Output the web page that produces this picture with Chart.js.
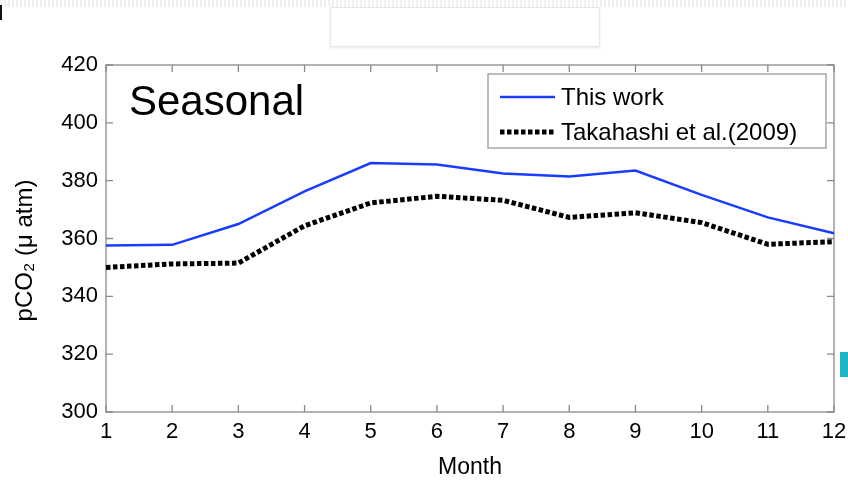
<!DOCTYPE html>
<html>
<head>
<meta charset="utf-8">
<script src="https://cdn.jsdelivr.net/npm/chart.js@4/dist/chart.umd.min.js"></script>
<style>
  html, body { margin: 0; padding: 0; background: #fff; }
  #wrap { position: relative; width: 848px; height: 482px; overflow: hidden; }
  #strip { position: absolute; left: 0; top: 0; width: 848px; height: 7px;
           background: repeating-linear-gradient(90deg, #f0f0f0 0 2px, #fff 2px 4px); }
  #topbox { position: absolute; left: 330px; top: 7px; width: 268px; height: 38px;
            border: 1px solid #e6e6e6; box-shadow: 0 1px 2px #e8e8e8; background: #fff; }
  #mark { position: absolute; left: 0; top: 5px; width: 2px; height: 15px; background: #111; }
  #cyan { position: absolute; left: 840px; top: 352px; width: 8px; height: 25px; background: #1db4c9; }
  canvas { position: absolute; left: 0; top: 0; }
</style>
</head>
<body>
<div id="wrap">
  <canvas id="c" width="848" height="482"></canvas>
  <div id="strip"></div>
  <div id="topbox"></div>
  <div id="mark"></div>
  <div id="cyan"></div>
</div>
<script>
const months = [1, 2, 3, 4, 5, 6, 7, 8, 9, 10, 11, 12];
const thisWork = [357.6, 357.8, 365.0, 376.3, 386.1, 385.6, 382.5, 381.4, 383.5, 375.1, 367.3, 361.8];
const takahashi = [350.0, 351.2, 351.5, 364.4, 372.3, 374.6, 373.2, 367.3, 368.9, 365.5, 358.0, 358.9];
const yTicks = [300, 320, 340, 360, 380, 400, 420];
const seriesNames = ['This work', 'Takahashi et al.(2009)'];
const panelLabel = 'Seasonal';

const AXIS_GRAY = '#8a8a8a';
const FONT = "'Liberation Sans', Arial, Helvetica, sans-serif";

const boxTicks = {
  id: 'boxTicks',
  beforeDatasetsDraw(chart) {
    const {ctx, chartArea: a, scales: {x, y}} = chart;
    ctx.save();
    ctx.strokeStyle = AXIS_GRAY;
    ctx.lineWidth = 1.3;
    ctx.strokeRect(a.left, a.top, a.right - a.left, a.bottom - a.top);
    const L = 7;
    ctx.beginPath();
    months.forEach((m, i) => {
      const px = x.getPixelForValue(i);
      ctx.moveTo(px, a.bottom); ctx.lineTo(px, a.bottom - L);
      ctx.moveTo(px, a.top); ctx.lineTo(px, a.top + L);
    });
    yTicks.forEach(v => {
      const py = y.getPixelForValue(v);
      ctx.moveTo(a.left, py); ctx.lineTo(a.left + L, py);
      ctx.moveTo(a.right, py); ctx.lineTo(a.right - L, py);
    });
    ctx.stroke();
    ctx.restore();
  },
  afterDatasetsDraw(chart) {
    const {ctx, chartArea: a} = chart;
    ctx.save();
    ctx.fillStyle = '#000';
    ctx.font = '42px ' + FONT;
    ctx.textBaseline = 'alphabetic';
    ctx.textAlign = 'left';
    ctx.fillText(panelLabel, a.left + 23, a.top + 50);
    const bx = 488, by = 74, bw = 338, bh = 74;
    ctx.fillStyle = '#fff';
    ctx.fillRect(bx, by, bw, bh);
    ctx.strokeStyle = '#9a9a9a';
    ctx.lineWidth = 1.3;
    ctx.strokeRect(bx, by, bw, bh);
    const ds = chart.data.datasets;
    const rows = [97, 132];
    ds.forEach((d, i) => {
      ctx.beginPath();
      ctx.strokeStyle = d.borderColor;
      ctx.lineWidth = d.borderWidth;
      ctx.setLineDash(d.borderDash || []);
      ctx.moveTo(500, rows[i]); ctx.lineTo(555, rows[i]);
      ctx.stroke();
      ctx.setLineDash([]);
      ctx.fillStyle = '#000';
      ctx.font = '24px ' + FONT;
      ctx.textBaseline = 'middle';
      ctx.fillText(d.label, 561, rows[i] + 1);
    });
    ctx.restore();
  }
};

new Chart(document.getElementById('c'), {
  type: 'line',
  data: {
    labels: months,
    datasets: [
      { label: seriesNames[0], data: thisWork, borderColor: '#1a3cff', borderWidth: 2.5,
        pointRadius: 0, tension: 0, fill: false },
      { label: seriesNames[1], data: takahashi, borderColor: '#000000', borderWidth: 5,
        borderDash: [4.5, 2.5], pointRadius: 0, tension: 0, fill: false }
    ]
  },
  options: {
    responsive: false,
    animation: false,
    devicePixelRatio: 1,
    layout: { padding: { top: 65, right: 14, left: 0, bottom: 0 } },
    plugins: { legend: { display: false }, tooltip: { enabled: false } },
    scales: {
      x: {
        type: 'category',
        offset: false,
        grid: { display: false, drawTicks: false },
        border: { display: false },
        ticks: { color: '#000', font: { family: FONT, size: 22 }, padding: 7, maxRotation: 0, autoSkip: false },
        title: { display: true, text: 'Month', color: '#000', font: { family: FONT, size: 23 }, padding: { top: 0, bottom: 1 } },
        afterFit(s) { s.height = 70; s.paddingLeft = 0; s.paddingRight = 0; }
      },
      y: {
        min: 300, max: 420,
        grid: { display: false, drawTicks: false },
        border: { display: false },
        afterBuildTicks(s) { s.ticks = yTicks.map(v => ({ value: v })); },
        ticks: { color: '#000', font: { family: FONT, size: 22 }, padding: 8 },
        title: { display: true, text: 'pCO\u2082 (\u03bc atm)\u2003', color: '#000', font: { family: FONT, size: 24 }, padding: { top: 11, bottom: 0 } },
        afterFit(s) { s.width = 106; s.paddingTop = 0; s.paddingBottom = 0; }
      }
    }
  },
  plugins: [boxTicks]
});
</script>
</body>
</html>
